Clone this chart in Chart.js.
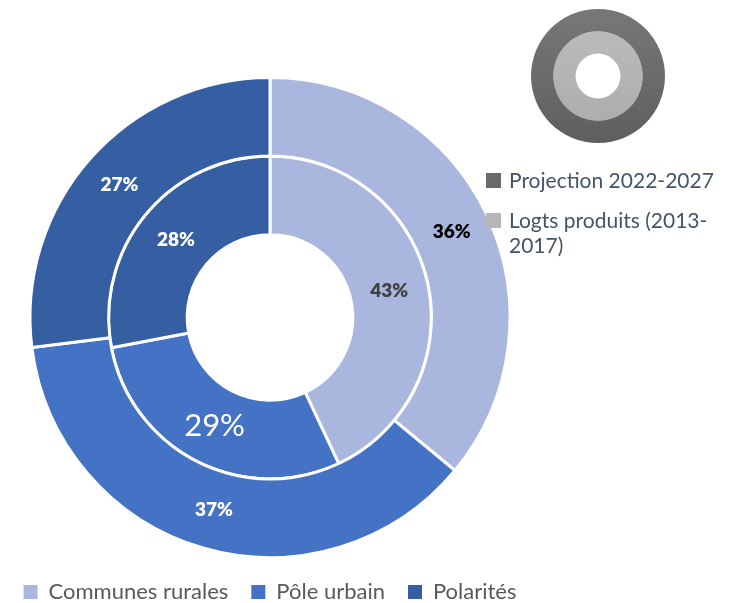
<!DOCTYPE html>
<html lang="fr">
<head>
<meta charset="utf-8">
<title>Répartition des logements</title>
<script src="https://cdn.jsdelivr.net/npm/chart.js@4"></script>
<style>
  html, body { margin: 0; padding: 0; background: #fff; overflow: hidden; }
  body { width: 737px; height: 603px; position: relative; font-family: Lato, "Open Sans", sans-serif; }
  #main { position: absolute; left: 0; top: 0; width: 556px; height: 613px; }
  #icon { position: absolute; left: 528px; top: 6px; width: 140px; height: 140px; }
  .ring-key { position: absolute; left: 486px; display: flex; align-items: flex-start; color: #44546a; font-size: 21px; line-height: 25px; }
  .ring-key span.sw { width: 15px; height: 15px; margin-top: 6px; margin-right: 8px; flex: none; }
</style>
</head>
<body>
<div id="main"><canvas id="rings"></canvas></div>
<div id="icon"><canvas id="ringIcon"></canvas></div>
<div id="ringKeys"></div>

<script>
// Categories (bottom legend)
const categories = ['Communes rurales', 'Pôle urbain', 'Polarités'];
// Outer ring: projection 2022-2027 (%)
const projection = [36, 37, 27];
// Inner ring: logements produits 2013-2017 (%)
const produced = [43, 29, 28];
// Ring names (top right key), multi-line as arrays
const ringLabels = ['Projection 2022-2027', ['Logts produits (2013-', '2017)']];

const catColors = ['#a9b6dd', '#4472c4', '#365ea3'];
const ringColors = ['#6a6a6a', '#b6b6b6'];
// top / bottom shades for the small ring symbol
const ringShades = [['#787878', '#5e5e5e'], ['#bebebe', '#aaaaaa']];

// per-slice label look: [dataset][index]
const labelStyle = [
  [{ color: '#000000', font: '800 19px Lato' },
   { color: '#ffffff', font: '800 19px Lato' },
   { color: '#ffffff', font: '800 19px Lato' }],
  [{ color: '#404040', font: '800 19px Lato' },
   { color: '#ffffff', font: '31px Lato' },
   { color: '#ffffff', font: '800 19px Lato' }]
];

// Draw the percentage in the middle of each arc
const sliceLabels = {
  id: 'sliceLabels',
  afterDatasetsDraw(chart) {
    const ctx = chart.ctx;
    ctx.save();
    ctx.textAlign = 'center';
    ctx.textBaseline = 'middle';
    chart.data.datasets.forEach((ds, di) => {
      const meta = chart.getDatasetMeta(di);
      meta.data.forEach((arc, i) => {
        const pos = arc.tooltipPosition();
        const st = labelStyle[di][i];
        ctx.fillStyle = st.color;
        ctx.font = st.font;
        ctx.fillText(ds.data[i] + '%', pos.x, pos.y);
      });
    });
    ctx.restore();
  }
};

const defaultLabels = Chart.overrides.doughnut.plugins.legend.labels.generateLabels;

new Chart(document.getElementById('rings'), {
  type: 'doughnut',
  data: {
    labels: categories,
    datasets: [
      {
        label: 'Projection 2022-2027',
        data: projection,
        backgroundColor: catColors,
        borderColor: '#ffffff',
        borderWidth: 3
      },
      {
        label: 'Logts produits (2013-2017)',
        data: produced,
        backgroundColor: catColors,
        borderColor: '#ffffff',
        borderWidth: 3
      }
    ]
  },
  options: {
    responsive: true,
    maintainAspectRatio: false,
    animation: false,
    radius: 240,
    cutout: '34.5%',
    layout: { padding: { left: 0, right: 16, top: 77, bottom: 0 } },
    plugins: {
      tooltip: { enabled: false },
      legend: {
        position: 'bottom',
        labels: {
          boxWidth: 14,
          boxHeight: 14,
          padding: 23,
          color: '#595959',
          font: { family: 'Lato', size: 22 },
          generateLabels(chart) {
            return defaultLabels(chart).map(item => Object.assign(item, { lineWidth: 0 }));
          }
        }
      }
    }
  },
  plugins: [sliceLabels]
});

// Small ring symbol used as the key for the two rings
function shade(i) {
  return function(c) {
    const area = c.chart.chartArea;
    if (!area) return ringColors[i];
    const g = c.chart.ctx.createLinearGradient(0, area.top, 0, area.bottom);
    g.addColorStop(0, ringShades[i][0]);
    g.addColorStop(1, ringShades[i][1]);
    return g;
  };
}

new Chart(document.getElementById('ringIcon'), {
  type: 'doughnut',
  data: {
    labels: ['ring'],
    datasets: ringColors.map((c, i) => ({ data: [1], backgroundColor: shade(i), borderWidth: 0 }))
  },
  options: {
    responsive: true,
    maintainAspectRatio: false,
    animation: false,
    radius: 67,
    cutout: '33.5%',
    events: [],
    plugins: { legend: { display: false }, tooltip: { enabled: false } }
  }
});

// Key text for the rings
const keys = document.getElementById('ringKeys');
const keyTops = [167, 207];
ringLabels.forEach((lbl, i) => {
  const row = document.createElement('div');
  row.className = 'ring-key';
  row.style.top = keyTops[i] + 'px';
  const sw = document.createElement('span');
  sw.className = 'sw';
  sw.style.background = ringColors[i];
  const txt = document.createElement('span');
  txt.innerHTML = [].concat(lbl).join('<br>');
  row.appendChild(sw);
  row.appendChild(txt);
  keys.appendChild(row);
});
</script>
</body>
</html>
